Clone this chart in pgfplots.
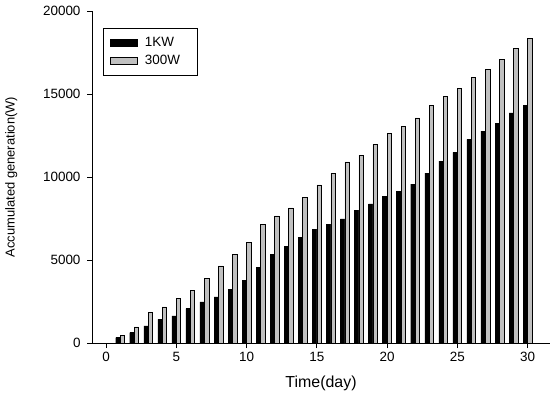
\documentclass[border=0pt]{standalone}
\usepackage{fontspec}
\setmainfont{Liberation Sans}
\usepackage{pgfplots}
\pgfplotsset{compat=1.18}

\pgfplotstableread{
day kw w300
1 324 464
2 627 965
3 1025 1833
4 1429 2171
5 1628 2695
6 2074 3178
7 2472 3883
8 2774 4643
9 3220 5330
10 3781 6054
11 4546 7158
12 5349 7658
13 5831 8141
14 6356 8768
15 6838 9527
16 7158 10215
17 7477 10914
18 7984 11318
19 8382 11963
20 8816 12615
21 9129 13049
22 9570 13567
23 10233 14333
24 10957 14876
25 11481 15358
26 12265 15980
27 12766 16462
28 13248 17089
29 13869 17729
30 14333 18355
}\gendata

\definecolor{barGray}{RGB}{192,192,192}

\begin{document}
\fontsize{13}{15}\selectfont
\begin{tikzpicture}[x=1bp,y=1bp]
\path[use as bounding box] (0,0) rectangle (551,401);
\begin{axis}[
    at={(92bp,58bp)}, anchor=south west,
    scale only axis,
    width=458bp, height=332bp,
    xmin=-1, xmax=31.6,
    ymin=0, ymax=20000,
    scaled y ticks=false,
    axis x line=bottom, axis y line=left,
    axis line style={-, line width=0.8pt},
    tick align=outside,
    major tick length=5bp,
    tick style={line width=0.8pt, black},
    xtick={0,5,...,30},
    ytick={0,5000,...,20000},
    /pgf/number format/1000 sep={},
    /pgf/number format/assume math mode=true,
    tick label style={font=\fontsize{13.5}{15}\selectfont},
    yticklabel style={xshift=-2bp},
    xlabel={Time(day)},
    ylabel={Accumulated generation(W)},
    xlabel style={font=\fontsize{16}{18}\selectfont, yshift=-5bp},
    ylabel style={font=\fontsize{13}{15}\selectfont, yshift=17bp},
    ybar=0pt, bar width=4.4bp,
    legend style={at={(0.024,0.949)}, anchor=north west,
        draw=black, line width=0.8pt, inner xsep=7bp, inner ysep=7bp,
        font=\fontsize{13.5}{15}\selectfont, row sep=3bp,
        legend cell align=left},
    legend image code/.code={\draw[#1, line width=0.6pt] (0bp,-3.5bp) rectangle (27bp,3.5bp);},
]
\addplot[fill=black, draw=black, line width=0.4pt] table[x=day, y=kw] {\gendata};
\addplot[fill=barGray, draw=black, line width=0.5pt] table[x=day, y=w300] {\gendata};
\legend{\hspace*{5bp}1KW, \hspace*{5bp}300W\hspace*{8bp}\null}
\end{axis}
\end{tikzpicture}
\end{document}
